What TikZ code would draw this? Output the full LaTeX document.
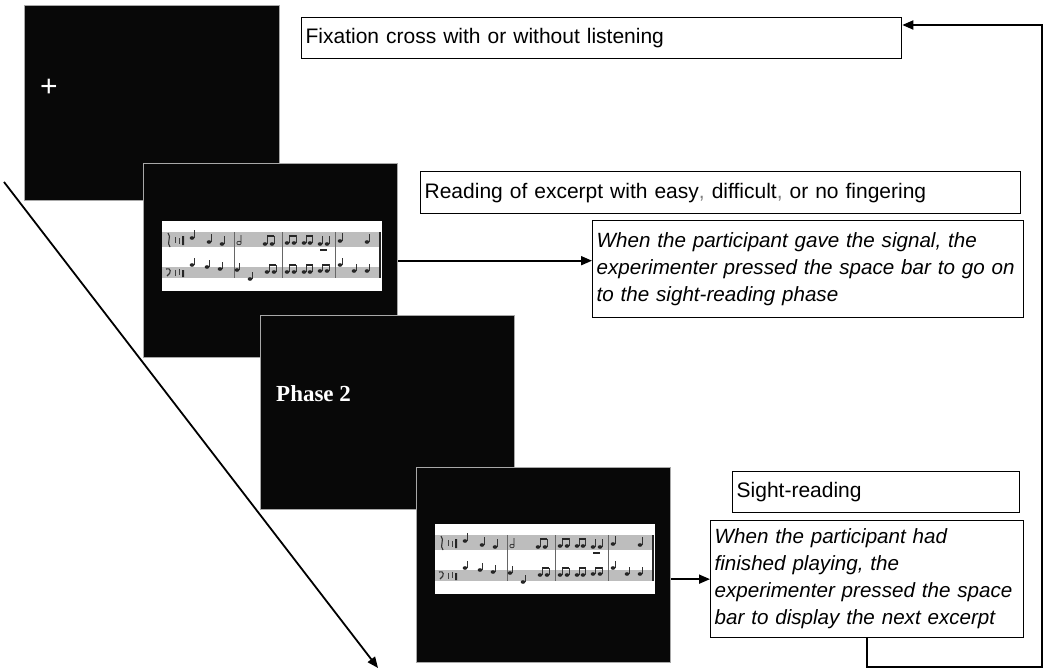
\documentclass[tikz,border=0pt]{standalone}
\usepackage{fontspec}
\setmainfont{Liberation Sans}
\newfontfamily\serifb{Liberation Serif}
\usetikzlibrary{arrows.meta}
\definecolor{scr}{HTML}{080808}
\definecolor{scrline}{HTML}{A8A8A8}
\definecolor{staff}{HTML}{BDBDBD}
\tikzset{
  screen/.style={draw=scrline, line width=1.4, fill=scr, anchor=north west, inner sep=0},
  txtbox/.style={draw=black, line width=1.3, anchor=north west, inner xsep=4, inner ysep=0, align=left,
    font=\fontsize{21}{27}\selectfont},
  itbox/.style={txtbox, font=\fontsize{20.6}{27}\selectfont\itshape},
  conn/.style={line width=1.8, -{Triangle[length=11,width=9]}},
  note/.style={fill=black!85},
  pics/excerpt/.style={code={
    \fill[white] (0,0) rectangle (220,70);
    \fill[staff] (0,11) rectangle (218,26);
    \fill[staff] (0,46) rectangle (218,57);
    % clefs and key/time
    \draw[black!80, line width=1.1] (6,12) .. controls (10,16) and (4,22) .. (8,26);
    \draw[black!80, line width=1.1] (4,48) .. controls (9,46) and (10,52) .. (5,55);
    \draw[black!75, line width=0.9] (13,16) -- (13,22) (17,17) -- (17,23);
    \draw[black!75, line width=0.9] (13,49) -- (13,55) (17,48) -- (17,54);
    \fill[black!85] (20,15) rectangle (22,24) (20,49) rectangle (22,56);
    % bar lines
    \foreach \bx in {72,120,173}{\draw[black!60, line width=0.9] (\bx,11) -- (\bx,57);}
    \draw[black!85, line width=2] (218,11) -- (218,57);
    % upper staff notes
    \foreach \nx/\ny in {30/17,47/21,60/23,103/23,110/23,125/22,132/22,142/22,148/22,158/23,165/23,178/20,205/21}{
      \fill[note] (\nx,\ny) ellipse [x radius=2.3, y radius=1.8];
      \draw[black!80, line width=0.7] (\nx+2,\ny) -- (\nx+2,\ny-8);}
    \draw[black!85, line width=0.7] (77,22) ellipse [x radius=2.2, y radius=1.8] (79,22) -- (79,14);
    \foreach \bx in {103,125,142}{\draw[black!85, line width=1.6] (\bx+2,15) -- (\bx+9,15);}
    \draw[black!85, line width=1.6] (158,29) -- (165,29);
    % lower staff notes
    \foreach \nx/\ny in {30/44,45/46,58/48,75/49,88/58,105/51,112/51,125/51,132/51,142/51,148/51,158/50,165/50,178/44,192/50,205/50}{
      \fill[note] (\nx,\ny) ellipse [x radius=2.3, y radius=1.8];
      \draw[black!80, line width=0.7] (\nx+2,\ny) -- (\nx+2,\ny-7);}
    \foreach \bx in {105,125,142,158}{\draw[black!85, line width=1.6] (\bx+2,44) -- (\bx+9,44);}
  }}
}
\begin{document}
\begin{tikzpicture}[x=1pt,y=-1pt]
\useasboundingbox (0,0) rectangle (1046,671);
% screens
\node[screen, minimum width=255, minimum height=195] (s1) at (24,5) {};
\node[text=white, font=\fontsize{30}{30}\selectfont, inner sep=0] (cross) at (49,88) {+};
\node[screen, minimum width=254, minimum height=194] (s2) at (143,163) {};
\pic at (162,221) {excerpt};
\node[screen, minimum width=254, minimum height=194] (s3) at (260,315) {};
\node[anchor=base west, text=white, inner sep=0, font=\serifb\bfseries\fontsize{23}{23}\selectfont] (ph) at (276,401) {Phase 2};
\node[screen, minimum width=254, minimum height=195] (s4) at (416,467) {};
\pic at (435,524) {excerpt};
% text boxes
\node[txtbox, minimum width=600, minimum height=41, text width=592] (fix) at (301,17) {Fixation cross with or without listening};
\node[txtbox, minimum width=600, minimum height=42, text width=592] (read) at (420,171) {Reading of excerpt with easy{\color{gray},} difficult{\color{gray},} or no fingering};
\node[itbox, minimum width=431, minimum height=97, text width=423] (sig) at (592,220) {\mbox{When the participant gave the signal, the}\\\mbox{experimenter pressed the space bar to go on}\\\mbox{to the sight-reading phase}};
\node[txtbox, minimum width=287, minimum height=41, text width=279] (sr) at (732,471) {Sight-reading};
\node[itbox, minimum width=313, minimum height=117, text width=305] (fin) at (710,520) {\mbox{When the participant had}\\\mbox{finished playing, the}\\\mbox{experimenter pressed the space}\\\mbox{bar to display the next excerpt}};
% connectors
\draw[conn] (s2.east) -- (s2.east -| sig.west);
\draw[conn] (fin.west -| s4.east) -- (fin.west);
\coordinate (c1) at (867,667);
\coordinate (c2) at (1042,25);
\draw[conn] (fin.south -| c1) -- (c1) -| (c2) -- (fix.east |- c2);
\coordinate (d0) at (4,182);
\coordinate (d1) at (378,668);
\draw[conn] (d0) -- (d1);
\end{tikzpicture}
\end{document}
